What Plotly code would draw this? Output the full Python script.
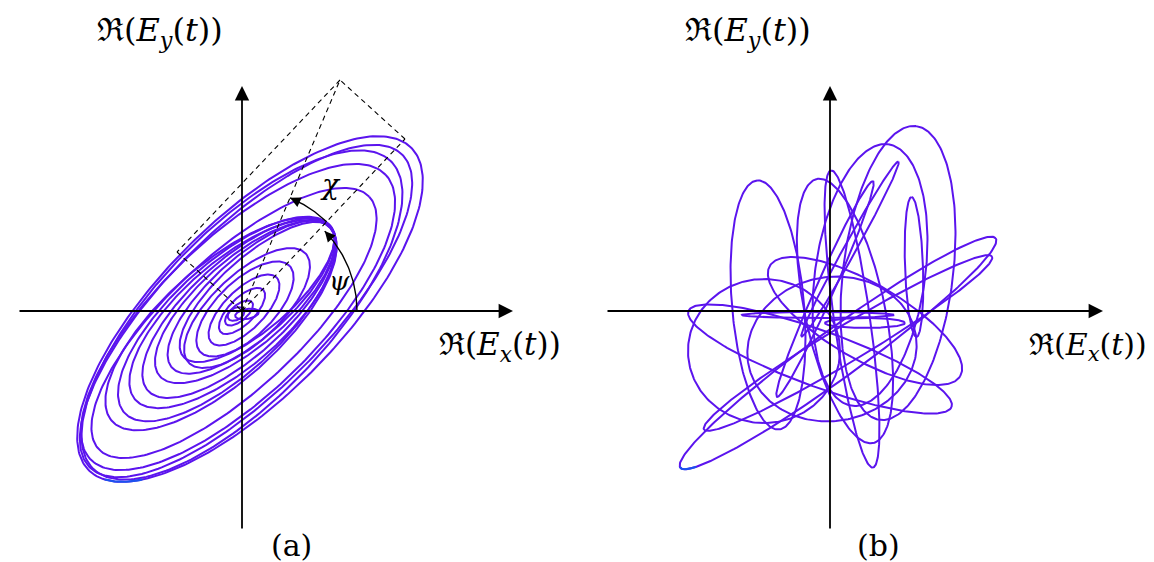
import numpy as np
import plotly.graph_objects as go

W, H = 1154, 562
# pixel position where the two axes cross, per panel
ORIGIN_A = (234, 303)
ORIGIN_B = (822, 303)
SPLIT = 580  # pixel column where panel (b) starts

# panel (a): tilted ellipses
# centre x, centre y, semi-major, semi-minor, tilt (deg)
a_cx = [8, 4, 0, -4, -8, -21, -15, -9, -3, 3, 9, 15, 5, 3, 2, 0, -3, -6, 5]
a_cy = [2, 0, -4, -6, -12, -13, -8, -3, 3, 9, 14, 19, 3, 2, 1, 0, -2, -3, -3]
a_semi_a = [228, 221, 214, 205, 185, 146, 139, 130, 123, 113, 106, 98, 80, 62, 46, 30, 17, 9, 12]
a_semi_b = [88, 80, 84, 78, 66, 58, 55, 52, 48, 44, 40, 36, 34, 28, 20, 13, 8, 6, 5]
a_tilt = [45, 45, 46, 44, 43, 41.7, 42.5, 41.2, 42.2, 41.0, 41.8, 41.3, 43, 44, 45, 45, 40, 30, 10]

# panel (b): loops of the unpolarised field
b_cx = [68, 40, 20, -5, 84, 8, 18, -62, 15, 2, -66, -10, -12, 35, 35, 22]
b_cy = [38, 36, 62, 22, 44, -42, -32, 6, 0, -38, -40, -48, -4, -12, -10, -8]
b_semi_a = [148, 132, 100, 118, 70, 195, 168, 125, 135, 85, 76, 140, 76, 40, 110, 150]
b_semi_b = [55, 55, 6, 9, 9, 24, 18, 36, 40, 72, 72, 28, 3, 5, 38, 18]
b_tilt = [83, 82, 61, 66, 92, 36, 31, 95, 102, 10, 0, -20, 0, 0, -30, 98]

# dashed construction in panel (a): major-axis corner and minor-axis corner
rect_major = (163, 172)
rect_minor = (-65, 59)

# angle arcs (radius, start deg, end deg)
psi_arc = (115, 0, 44)
chi_arc = (123, 46.5, 67)

TRAJ = "#5b14ee"
TRAJ_START = "#1b52ee"
SERIF = "DejaVu Serif"


def ellipse(cx, cy, a, b, deg, n=260):
    t = np.linspace(0, 2 * np.pi, n)
    th = np.radians(deg)
    x = cx + a * np.cos(t) * np.cos(th) - b * np.sin(t) * np.sin(th)
    y = cy + a * np.cos(t) * np.sin(th) + b * np.sin(t) * np.cos(th)
    return x, y


def joined(cxs, cys, aa, bb, tt):
    xs, ys = [], []
    for p in zip(cxs, cys, aa, bb, tt):
        x, y = ellipse(*p)
        xs += list(x) + [None]
        ys += list(y) + [None]
    return xs, ys


def bottom_piece(p):
    x, y = ellipse(*p, n=600)
    keep = y < y.min() + 2.5
    return x[keep], y[keep]


fig = go.Figure()

for cxs, cys, aa, bb, tt, ax, first in [
    (a_cx, a_cy, a_semi_a, a_semi_b, a_tilt, "x", 0),
    (b_cx, b_cy, b_semi_a, b_semi_b, b_tilt, "x2", 5),
]:
    xs, ys = joined(cxs, cys, aa, bb, tt)
    fig.add_trace(go.Scatter(x=xs, y=ys, mode="lines", xaxis=ax, yaxis="y",
                             line=dict(color=TRAJ, width=2), hoverinfo="skip"))
    bx, by = bottom_piece((cxs[first], cys[first], aa[first], bb[first], tt[first]))
    fig.add_trace(go.Scatter(x=bx, y=by, mode="lines", xaxis=ax, yaxis="y",
                             line=dict(color=TRAJ_START, width=2.1), hoverinfo="skip"))

# angle arcs psi and chi
for r, d0, d1 in [psi_arc, chi_arc]:
    ang = np.radians(np.linspace(d0, d1, 60))
    fig.add_trace(go.Scatter(x=r * np.cos(ang), y=r * np.sin(ang), mode="lines",
                             line=dict(color="black", width=1.4), hoverinfo="skip"))

annotations = []

# coordinate axes with arrow heads
axis_ends = [("x", ORIGIN_A[0], 10, 505), ("x2", ORIGIN_B[0], 598, 1095)]
for ax, ox, left, right in axis_ends:
    annotations.append(dict(x=right - ox, y=0, ax=left - ox, ay=0,
                            xref=ax, yref="y", axref=ax, ayref="y", text="",
                            showarrow=True, arrowhead=2, arrowsize=1.6,
                            arrowwidth=1.8, arrowcolor="black"))
    annotations.append(dict(x=0, y=ORIGIN_A[1] - 78, ax=0, ay=ORIGIN_A[1] - 522,
                            xref=ax, yref="y", axref=ax, ayref="y", text="",
                            showarrow=True, arrowhead=2, arrowsize=1.6,
                            arrowwidth=1.8, arrowcolor="black"))

# arrow heads on the arcs
for r, d0, d1 in [psi_arc, chi_arc]:
    ang = np.radians(d1)
    back = np.radians(d1 - 4)
    annotations.append(dict(x=r * np.cos(ang), y=r * np.sin(ang),
                            ax=r * np.cos(back), ay=r * np.sin(back),
                            xref="x", yref="y", axref="x", ayref="y", text="",
                            showarrow=True, arrowhead=2, arrowsize=1.5,
                            arrowwidth=1.4, arrowcolor="black"))


def label(text, px, py, size):
    return dict(text=text, x=px / W, y=1 - py / H, xref="paper", yref="paper",
                showarrow=False, xanchor="center", yanchor="middle",
                font=dict(family=SERIF, size=size, color="black"))


ey = "ℜ(<i>E</i><sub><i>y</i></sub>(<i>t</i>))"
ex = "ℜ(<i>E</i><sub><i>x</i></sub>(<i>t</i>))"
annotations += [
    label(ey, 152, 24, 32), label(ey, 740, 24, 32),
    label(ex, 492, 338, 31), label(ex, 1080, 338, 30),
    label("(a)", 283, 537, 30), label("(b)", 870, 537, 30),
    label("<i>χ</i>", 322, 176, 28), label("<i>ψ</i>", 331, 273, 26),
]

# dashed rectangle and diagonal
apex = (rect_major[0] + rect_minor[0], rect_major[1] + rect_minor[1])
shapes = []
for p0, p1 in [((0, 0), rect_major), (rect_major, apex), (apex, rect_minor),
               (rect_minor, (0, 0)), ((0, 0), apex)]:
    shapes.append(dict(type="line", xref="x", yref="y", x0=p0[0], y0=p0[1],
                       x1=p1[0], y1=p1[1],
                       line=dict(color="black", width=1.1, dash="5px,4px")))

fig.update_layout(
    width=W, height=H,
    margin=dict(l=0, r=0, t=0, b=0),
    paper_bgcolor="white", plot_bgcolor="white",
    showlegend=False,
    font=dict(family=SERIF),
    xaxis=dict(domain=[0, SPLIT / W], range=[-ORIGIN_A[0], SPLIT - ORIGIN_A[0]],
               visible=False, fixedrange=True),
    xaxis2=dict(domain=[SPLIT / W, 1], range=[-(ORIGIN_B[0] - SPLIT), W - ORIGIN_B[0]],
                visible=False, anchor="y", fixedrange=True),
    yaxis=dict(domain=[0, 1], range=[ORIGIN_A[1] - H, ORIGIN_A[1]],
               visible=False, fixedrange=True),
    annotations=annotations,
    shapes=shapes,
)

fig.write_html("out.html")
